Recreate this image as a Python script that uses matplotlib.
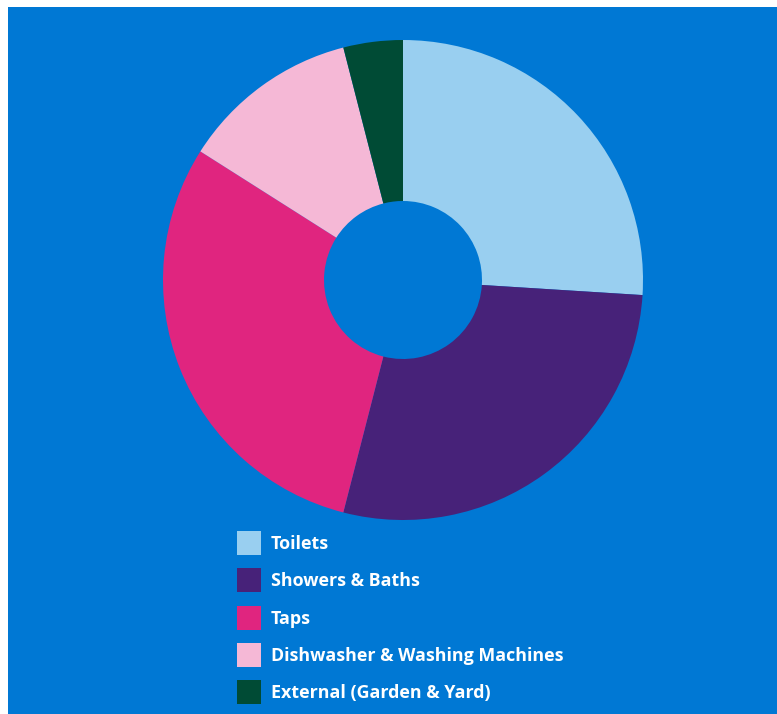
import matplotlib
matplotlib.use("Agg")
import matplotlib.pyplot as plt
from matplotlib.patches import Patch, Rectangle

categories = ["Toilets", "Showers & Baths", "Taps",
              "Dishwasher & Washing Machines", "External (Garden & Yard)"]
values = [26, 28, 30, 12, 4]
colors = ["#99CFF0", "#472279", "#E0257F", "#F5B8D6", "#004B35"]
bg = "#0078D4"

W, H = 777, 714
fig = plt.figure(figsize=(W / 100, H / 100), dpi=100)
fig.patch.set_facecolor("white")
fig.patches.append(Rectangle((8 / W, 0), 1 - 8 / W, (H - 7) / H,
                             transform=fig.transFigure, facecolor=bg,
                             edgecolor="none", zorder=-5))

cx, cy, r = 403, 280, 240
ax = fig.add_axes([(cx - r) / W, 1 - (cy + r) / H, 2 * r / W, 2 * r / H])
ax.set_zorder(2)
ax.set_facecolor("none")
ax.pie(values, colors=colors, startangle=90, counterclock=False,
       radius=1, wedgeprops=dict(width=1 - 79 / 240, linewidth=0))
ax.set_xlim(-1, 1)
ax.set_ylim(-1, 1)
ax.set_aspect("equal")
ax.axis("off")

fs = 12.9
handles = [Patch(facecolor=c, edgecolor="none") for c in colors]
leg = fig.legend(handles, categories, loc="upper left",
                 bbox_to_anchor=(237 / W, 1 - 531 / H),
                 frameon=False, borderpad=0, borderaxespad=0,
                 handlelength=1.34, handleheight=1.69, handletextpad=0.55,
                 labelspacing=0.74,
                 prop=dict(family="Open Sans", weight="bold", size=fs))
leg.set_zorder(3)
for t in leg.get_texts():
    t.set_color("white")

fig.savefig("out.png", dpi=100, facecolor=fig.get_facecolor())
